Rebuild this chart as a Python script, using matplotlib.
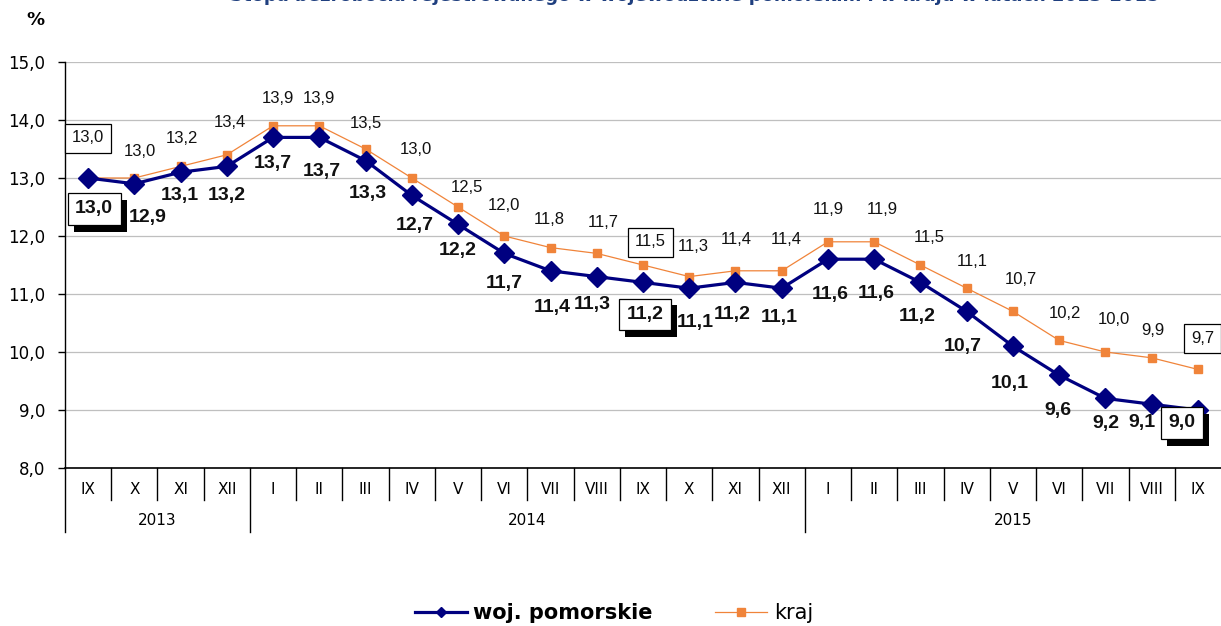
import numpy as np
import matplotlib
matplotlib.use("Agg")
import matplotlib.pyplot as plt
import matplotlib.patheffects as pe
from matplotlib.lines import Line2D

# data
months = ["IX", "X", "XI", "XII",
          "I", "II", "III", "IV", "V", "VI", "VII", "VIII", "IX", "X", "XI", "XII",
          "I", "II", "III", "IV", "V", "VI", "VII", "VIII", "IX"]
years = ["2013", "2014", "2015"]
year_counts = [4, 12, 9]
woj = [13.0, 12.9, 13.1, 13.2, 13.7, 13.7, 13.3, 12.7, 12.2, 11.7, 11.4, 11.3, 11.2,
       11.1, 11.2, 11.1, 11.6, 11.6, 11.2, 10.7, 10.1, 9.6, 9.2, 9.1, 9.0]
kraj = [13.0, 13.0, 13.2, 13.4, 13.9, 13.9, 13.5, 13.0, 12.5, 12.0, 11.8, 11.7, 11.5,
        11.3, 11.4, 11.4, 11.9, 11.9, 11.5, 11.1, 10.7, 10.2, 10.0, 9.9, 9.7]
boxed = [0, 12, 24]

# label offsets in pixels (x right, y down) - placement like in the original
woj_off = [(6, 31), (13, 34), (-1, 23), (0, 29), (0, 26), (2, 34), (2, 33), (3, 30), (0, 26),
           (0, 30), (2, 37), (-5, 28), (2, 32), (6, 34), (-3, 32), (-2, 29), (2, 35), (2, 34),
           (-3, 34), (-4, 35), (-3, 37), (-1, 35), (0, 25), (-10, 18), (-16, 13)]
kraj_off = [(0, -40), (6, -26), (1, -28), (3, -32), (5, -27), (0, -27), (0, -26), (4, -28),
            (9, -20), (0, -31), (-1, -28), (6, -31), (7, -23), (4, -30), (1, -31), (5, -31),
            (0, -32), (8, -32), (9, -27), (6, -27), (8, -32), (6, -27), (8, -32), (1, -27), (5, -31)]

navy = "#000080"
orange = "#f0843a"

def fmt(v):
    return f"{v:.1f}".replace(".", ",")

fig = plt.figure(figsize=(12.21, 6.26), dpi=100)
ax = fig.add_axes([65 / 1221, 1 - 468 / 626, 1 - 65 / 1221, 406 / 626])

x = np.arange(len(months))
ax.plot(x, kraj, color=orange, lw=0.9, marker="s", ms=5.5, zorder=3)
ax.plot(x, woj, color=navy, lw=2.3, marker="D", ms=10, zorder=4)

ax.set_xlim(-0.5, len(months) - 0.5)
ax.set_ylim(8, 15)
ax.set_yticks(np.arange(8, 15.1, 1))
ax.set_yticklabels([fmt(v) for v in np.arange(8, 15.1, 1)], fontsize=12)
ax.tick_params(axis="y", length=5, width=1, pad=9)
ax.set_xticks([])
ax.grid(axis="y", color="#bfbfbf", lw=0.9)
ax.set_axisbelow(True)
for s in ["top", "right"]:
    ax.spines[s].set_visible(False)
ax.spines["left"].set_linewidth(1)
ax.spines["bottom"].set_linewidth(1.2)

# data labels
for i, v in enumerate(kraj):
    dx, dy = kraj_off[i]
    kw = {}
    if i in boxed:
        kw["bbox"] = dict(boxstyle="square,pad=0.42", fc="white", ec="black", lw=0.9)
    ax.annotate(fmt(v), (x[i], v), xytext=(dx, -dy), textcoords="offset pixels",
                ha="center", va="center", fontsize=12, family="Liberation Sans",
                color="#111111", zorder=6 if i in boxed else 5, annotation_clip=False, **kw)

for i, v in enumerate(woj):
    dx, dy = woj_off[i]
    t = ax.annotate(fmt(v), (x[i], v), xytext=(dx, -dy), textcoords="offset pixels",
                    ha="center", va="center", fontsize=14, fontweight="bold",
                    family="Liberation Sans", color="#111111",
                    zorder=7 if i in boxed else 5, annotation_clip=False,
                    bbox=dict(boxstyle="square,pad=0.38", fc="white", ec="black", lw=0.9)
                    if i in boxed else None)
    if i in boxed:
        t.get_bbox_patch().set_path_effects(
            [pe.withSimplePatchShadow(offset=(4.5, -5), shadow_rgbFace="black", alpha=1.0)])

# category axis: month labels, separators, years
xt = ax.get_xaxis_transform()
year_edges = np.cumsum([0] + year_counts)
for k in range(len(months)):
    long_line = k in year_edges
    ax.plot([k - 0.5, k - 0.5], [0, -0.158 if long_line else -0.079], transform=xt,
            color="black", lw=1, clip_on=False)
for i, m in enumerate(months):
    ax.text(i, -0.054, m, transform=xt, ha="center", va="center", fontsize=11)
for j, yr in enumerate(years):
    mid = (year_edges[j] + year_edges[j + 1]) / 2 - 0.5
    ax.text(mid, -0.13, yr, transform=xt, ha="center", va="center", fontsize=11)

fig.text(35 / 1221, 1 - 20 / 626, "%", fontsize=13, fontweight="bold", ha="center", va="center")
fig.text(695 / 1221, 1 - 1 / 626,
         "Stopa bezrobocia rejestrowanego w województwie pomorskim i w kraju w latach 2013-2015",
         fontsize=13, fontweight="bold", color="#1f3f7f", ha="center", va="baseline")

handles = [Line2D([], [], color=navy, lw=2.3, marker="D", ms=5.5),
           Line2D([], [], color=orange, lw=0.9, marker="s", ms=5.5)]
leg = fig.legend(handles, ["woj. pomorskie", "kraj"], loc="center",
                 bbox_to_anchor=(614 / 1221, 1 - 613 / 626), ncol=2, frameon=False,
                 fontsize=15, handlelength=2.5, handletextpad=0.3, columnspacing=3.0)
leg.get_texts()[0].set_fontweight("bold")

fig.savefig("out.png", dpi=100)
